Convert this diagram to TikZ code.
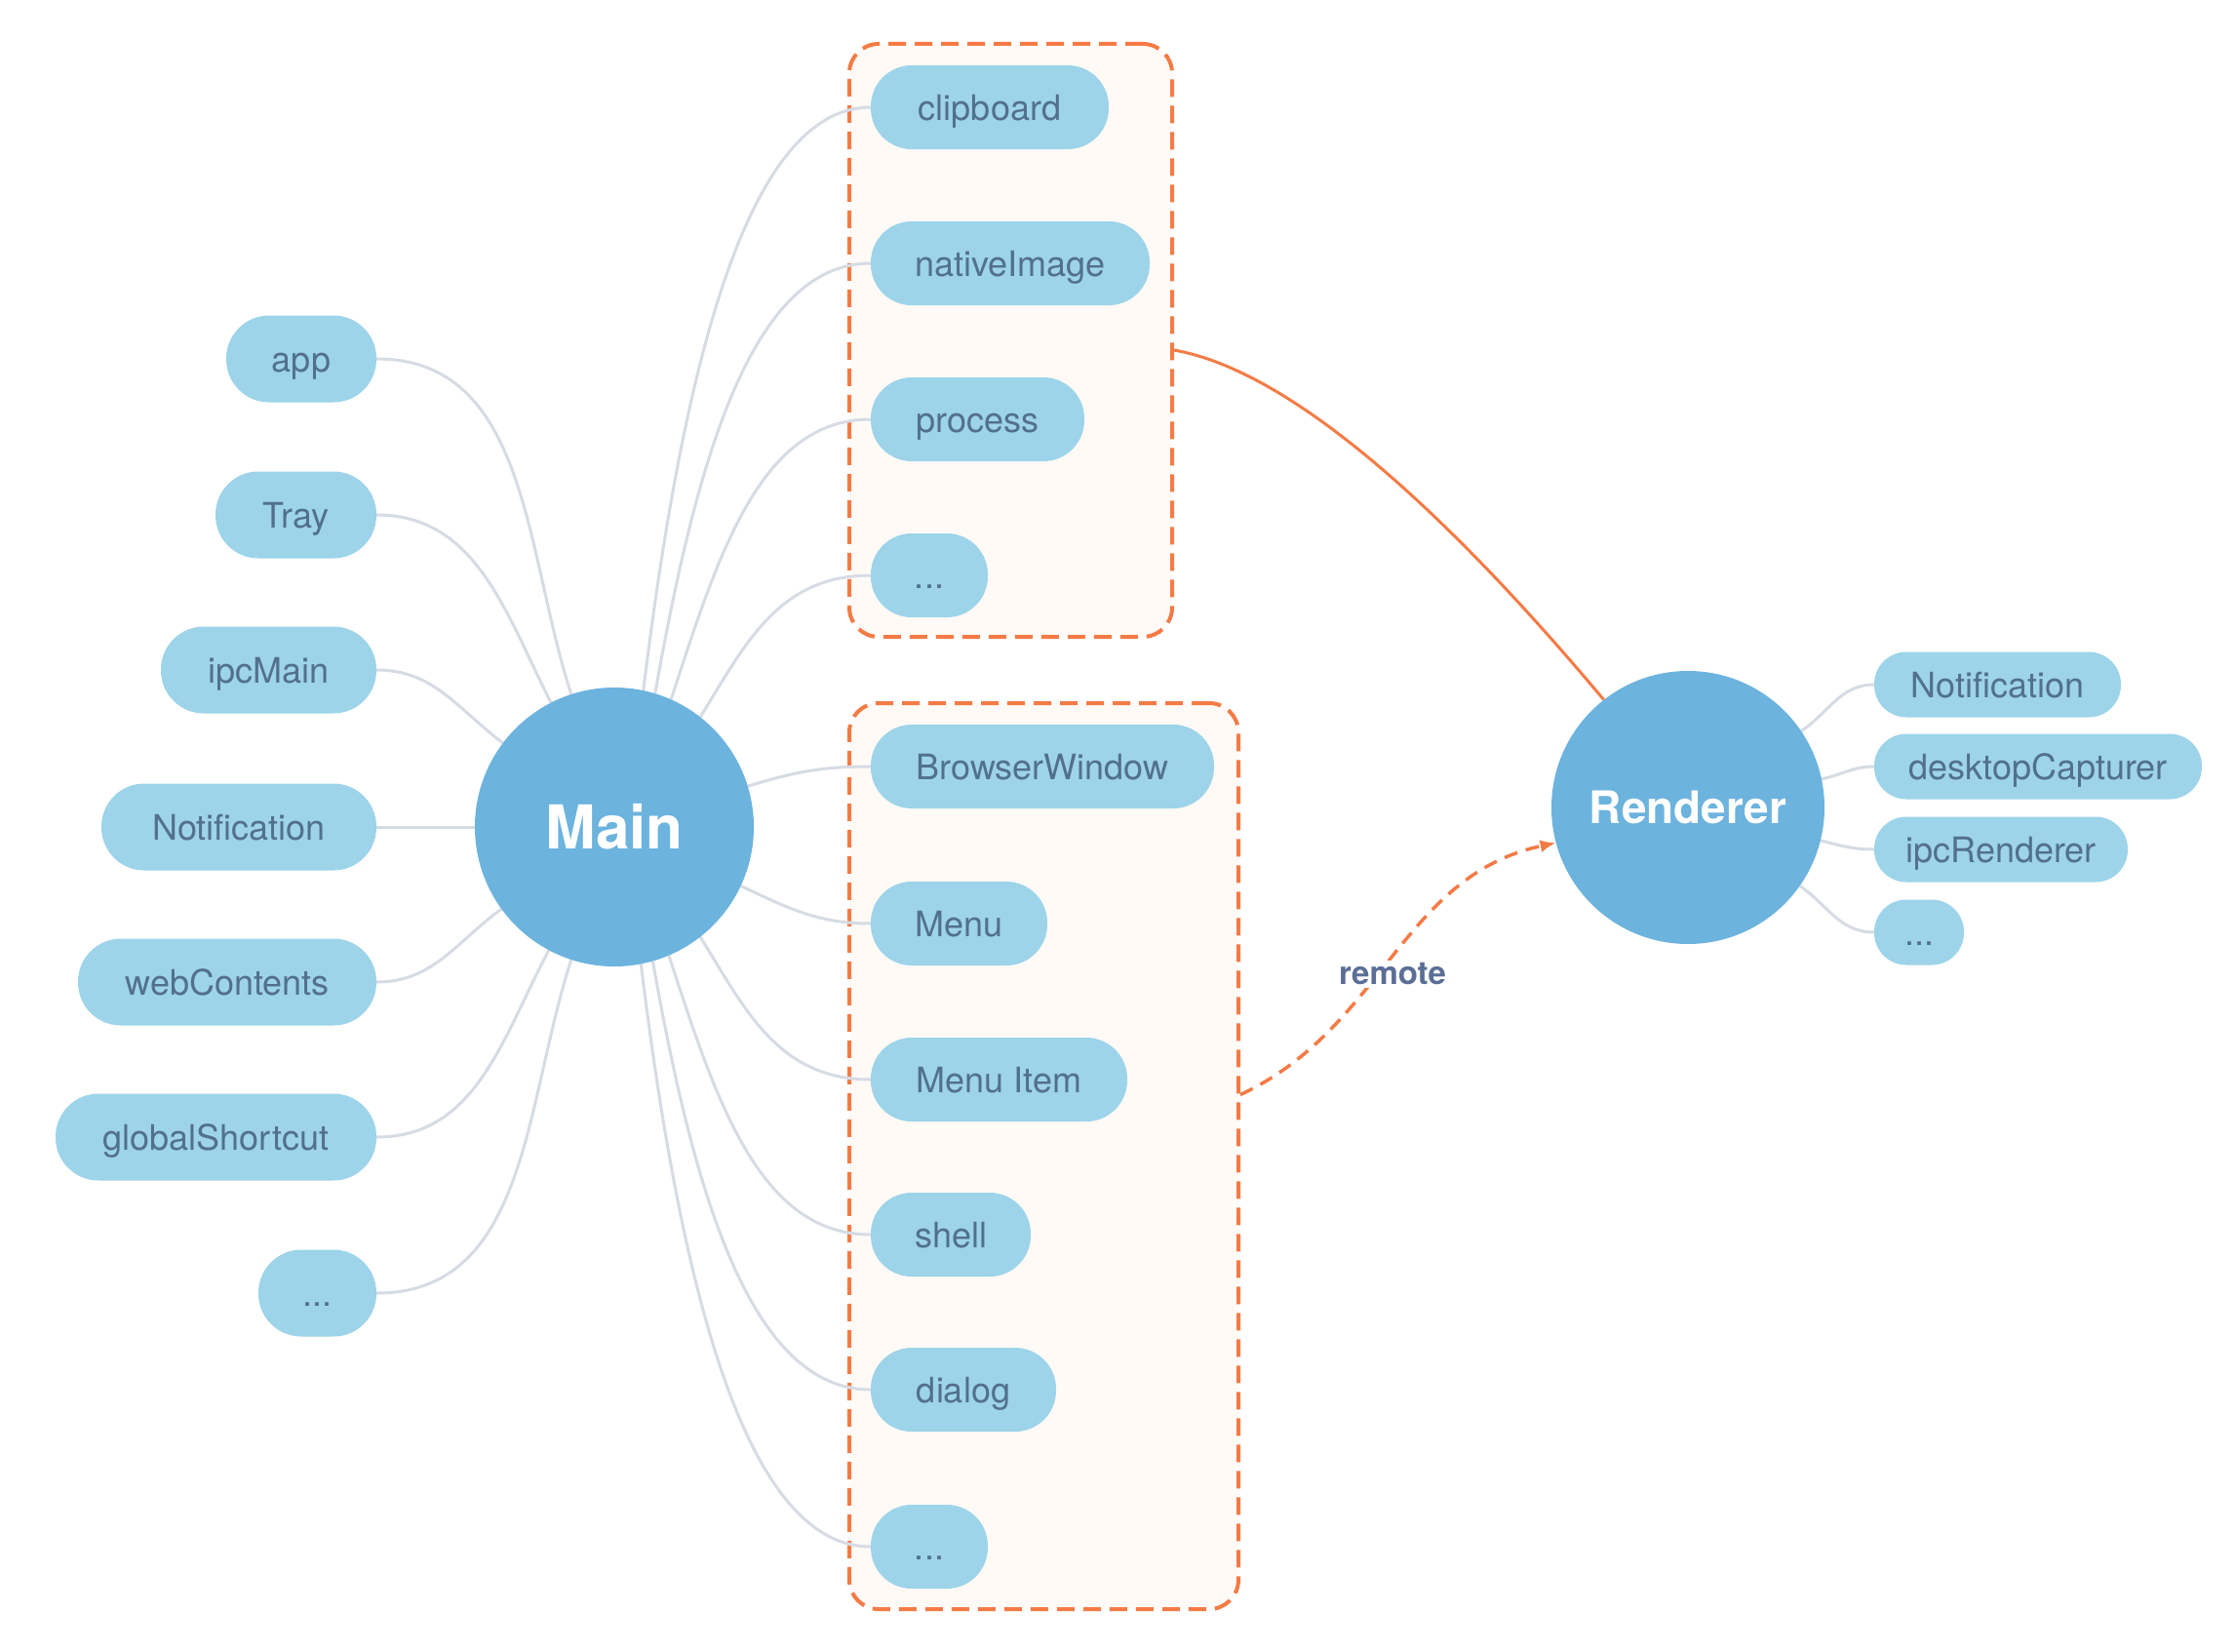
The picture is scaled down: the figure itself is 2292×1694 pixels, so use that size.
\documentclass[tikz,border=0pt]{standalone}
\usepackage{fontspec}
\setmainfont{TeX Gyre Heros}
\usetikzlibrary{arrows.meta}
\definecolor{pillfill}{HTML}{9DD4E9}
\definecolor{pilltext}{HTML}{52708E}
\definecolor{circfill}{HTML}{6CB3DE}
\definecolor{connc}{HTML}{D6DBE4}
\definecolor{orng}{HTML}{F47B45}
\definecolor{boxfill}{HTML}{FFFAF6}
\definecolor{remotec}{HTML}{5B6E96}
\pgfdeclarelayer{bg}\pgfdeclarelayer{lines}\pgfsetlayers{bg,lines,main}
\newcommand\mkpill[6]{\node[#1, minimum width={(#4-#3)*1pt}] (#2) at ({(#3+#4)/2},{-#5}) {#6};}
\begin{document}
\begin{tikzpicture}[x=1pt,y=1pt,
 pill/.style={rectangle, rounded corners=44pt, fill=pillfill, text=pilltext, minimum height=89pt, inner sep=0pt, text height=26pt, text depth=0pt, font=\fontsize{36}{40}\selectfont},
 tpill/.style={pill, rounded corners=42pt, minimum height=86pt},
 rpill/.style={pill, rounded corners=33pt, minimum height=67pt},
 hub/.style={circle, fill=circfill, text=white, inner sep=0pt},
 conn/.style={draw=connc, line width=3pt},
 grp/.style={rectangle, draw=orng, fill=boxfill, line width=4pt, dash pattern=on 18pt off 9pt, rounded corners=30pt, inner sep=0pt},
 ]
\useasboundingbox (0,0) rectangle (2292,-1694);

\begin{pgfonlayer}{bg}
\fill[white] (0,0) rectangle (2292,-1694);
\node[grp, minimum width=331pt, minimum height=608pt] (topbox) at (1036.5,-349) {};
\node[grp, minimum width=399pt, minimum height=929pt] (botbox) at (1070.5,-1185.5) {};
\end{pgfonlayer}

% hubs
\node[hub, minimum size=286pt, text height=45pt, text depth=0pt, font=\bfseries\fontsize{62}{70}\selectfont] (main) at (630,-848) {Main};
\node[hub, minimum size=280pt, text height=33pt, text depth=0pt, font=\bfseries\fontsize{46}{52}\selectfont] (rend) at (1731,-828) {Renderer};

% left pills
\mkpill{pill}{app}{232}{386}{368}{app}
\mkpill{pill}{tray}{221}{386}{528}{Tray}
\mkpill{pill}{ipcm}{165}{386}{687}{ipcMain}
\mkpill{pill}{lnot}{104}{386}{848}{Notification}
\mkpill{pill}{webc}{80}{386}{1007}{webContents}
\mkpill{pill}{glob}{57}{386}{1166}{globalShortcut}
\mkpill{pill}{ldots}{265}{386}{1326}{...}

% top box pills
\mkpill{tpill}{clip}{893}{1137}{110}{clipboard}
\mkpill{tpill}{nimg}{893}{1179}{270}{nativeImage}
\mkpill{tpill}{proc}{893}{1112}{430}{process}
\mkpill{tpill}{tdots}{893}{1013}{590}{...}

% bottom box pills
\mkpill{tpill}{bwin}{893}{1245}{786}{BrowserWindow}
\mkpill{tpill}{menu}{893}{1074}{947}{Menu}
\mkpill{tpill}{mitem}{893}{1156}{1107}{Menu Item}
\mkpill{tpill}{shell}{893}{1057}{1266}{shell}
\mkpill{tpill}{dialog}{893}{1083}{1425}{dialog}
\mkpill{tpill}{bdots}{893}{1013}{1586}{...}

% right pills
\mkpill{rpill}{rnot}{1922}{2175}{702}{Notification}
\mkpill{rpill}{dcap}{1922}{2258}{786}{desktopCapturer}
\mkpill{rpill}{ipcr}{1922}{2182}{871}{ipcRenderer}
\mkpill{rpill}{rdots}{1922}{2014}{956}{...}

\begin{pgfonlayer}{lines}
% left connectors
\draw[conn] (app.east) to[out=0,in=108] (main.108);
\draw[conn] (tray.east) to[out=0,in=117] (main.117);
\draw[conn] (ipcm.east) to[out=0,in=143] (main.143);
\draw[conn] (lnot.east) -- (main.180);
\draw[conn] (webc.east) to[out=0,in=216] (main.216);
\draw[conn] (glob.east) to[out=0,in=242] (main.242);
\draw[conn] (ldots.east) to[out=0,in=252] (main.252);
% right connectors of Main
\draw[conn] (main.78) to[out=83,in=180,out distance=329pt,in distance=128pt] (clip.west);
\draw[conn] (main.73) to[out=80,in=180,out distance=243pt,in distance=122pt] (nimg.west);
\draw[conn] (main.66) to[out=72,in=180,out distance=158pt,in distance=113pt] (proc.west);
\draw[conn] (main.52) to[out=58,in=180,out distance=85pt,in distance=96pt] (tdots.west);
\draw[conn] (main.17) to[out=17,in=180] (bwin.west);
\draw[conn] (main.-25) to[out=-25,in=180] (menu.west);
\draw[conn] (main.-52) to[out=-58,in=180,out distance=85pt,in distance=96pt] (mitem.west);
\draw[conn] (main.-67) to[out=-72,in=180,out distance=157pt,in distance=114pt] (shell.west);
\draw[conn] (main.-74) to[out=-80,in=180,out distance=242pt,in distance=123pt] (dialog.west);
\draw[conn] (main.-79) to[out=-83,in=180,out distance=329pt,in distance=130pt] (bdots.west);
% renderer connectors
\draw[conn] (rend.34) to[out=34,in=180] (rnot.west);
\draw[conn] (rend.12) to[out=12,in=180] (dcap.west);
\draw[conn] (rend.-14) to[out=-14,in=180] (ipcr.west);
\draw[conn] (rend.-35) to[out=-35,in=180] (rdots.west);
% orange connectors
\draw[orng, line width=3pt] ([yshift=-10pt]topbox.east) to[out=-10,in=130,out distance=109pt,in distance=289pt] (rend.128);
\draw[orng, line width=3.5pt, dash pattern=on 14pt off 9pt, -{Latex[length=16pt,width=13pt]}] ([yshift=63pt]botbox.east) to[out=25,in=192] (rend.195);
\end{pgfonlayer}

\node[fill=white, text=remotec, font=\bfseries\fontsize{33}{36}\selectfont, inner sep=3pt] (remote) at (1428,-999) {remote};
\end{tikzpicture}
\end{document}
